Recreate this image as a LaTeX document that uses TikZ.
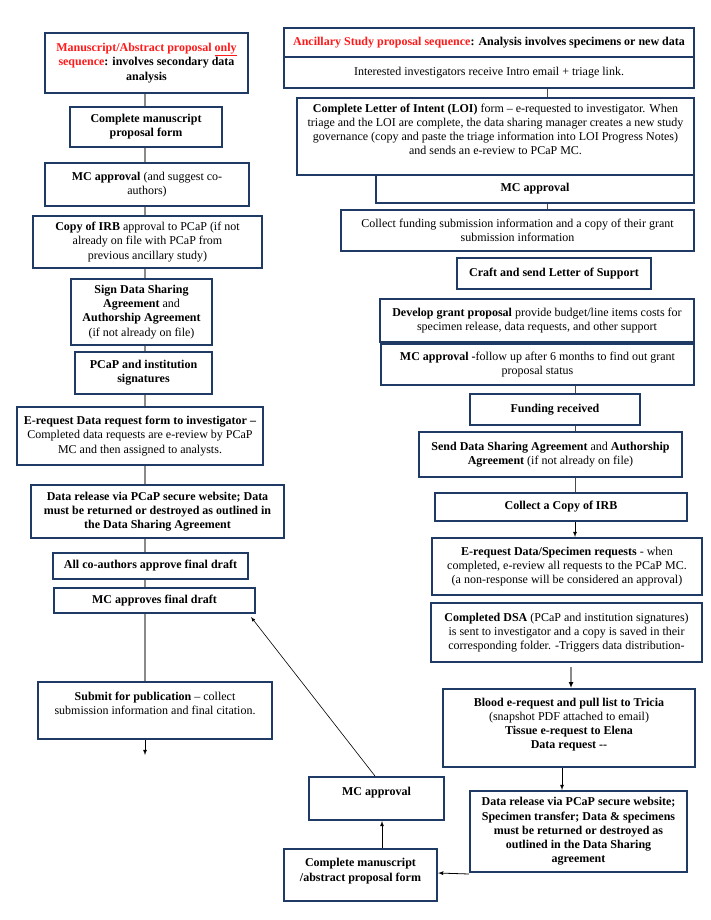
\documentclass[tikz,border=0pt]{standalone}
\usepackage{fontspec}
\setmainfont{Liberation Serif}
\usepackage{xcolor}
\usetikzlibrary{arrows.meta}
\definecolor{navyline}{HTML}{1F3A64}
\definecolor{hdred}{HTML}{FF1A1A}
\definecolor{lgray}{HTML}{8A8A8A}
\definecolor{dgray}{HTML}{4A4A4A}

\begin{document}
\begin{tikzpicture}[x=1pt,y=1pt,
    box/.style={draw=navyline,line width=2pt,align=center,inner sep=2pt,
      font=\fontsize{12}{14.2}\selectfont},
    bx/.style={box,font=\fontsize{12}{14.2}\selectfont\bfseries},
    lline/.style={draw=lgray,line width=1.4pt},
    rline/.style={draw=dgray,line width=1pt},
    arr/.style={->,>=latex,draw=black,line width=0.8pt}]
  \useasboundingbox (0,0) rectangle (710,-920);
  \coordinate (lx) at (145,0);
  % left column: manuscript / abstract sequence
  \node[bx,minimum width=203,minimum height=60](mhead) at (146.5,-63)
    {\textcolor{hdred}{Manuscript/Abstract proposal \underline{only}}\\
     \textcolor{hdred}{sequence}: involves secondary data\\ analysis};
  \node[bx,minimum width=152,minimum height=40](mform) at (146,-127)
    {Complete manuscript\\proposal form};
  \node[box,minimum width=204,minimum height=43](mcA) at (147,-184.5)
    {\textbf{MC approval} (and suggest co-\\authors)};
  \node[box,minimum width=229,minimum height=52](irbA) at (147.5,-242)
    {\textbf{Copy of IRB} approval to PCaP (if not\\already on file with PCaP from\\previous ancillary study)};
  \node[box,minimum width=141,minimum height=66](dsaA) at (141.5,-312)
    {\textbf{Sign Data Sharing}\\\textbf{Agreement} and\\\textbf{Authorship Agreement}\\(if not already on file)};
  \node[bx,minimum width=137,minimum height=42](sigA) at (143.5,-373)
    {PCaP and institution\\signatures};
  \node[box,minimum width=246,minimum height=58](ereqA) at (140,-436)
    {\textbf{E-request Data request form to investigator –}\\Completed data requests are e-review by PCaP\\MC and then assigned to analysts.};
  \node[bx,minimum width=253,minimum height=53](relA) at (157.5,-511.5)
    {Data release via PCaP secure website; Data\\must be returned or destroyed as outlined in\\the Data Sharing Agreement};
  \node[bx,minimum width=195,minimum height=26](coauth) at (150.5,-566)
    {All co-authors approve final draft};
  \node[bx,minimum width=201,minimum height=25](mcfin) at (154.5,-600.5)
    {MC approves final draft};
  \node[box,minimum width=234,minimum height=57](submit) at (155,-710.5)
    {\textbf{Submit for publication} – collect\\submission information and final citation.\\ \mbox{}};
  \coordinate (subend) at (145,-755);
  % right column: ancillary study sequence
  \node[bx,minimum width=410,minimum height=29](hdrA) at (489,-42.5)
    {\textcolor{hdred}{Ancillary Study proposal sequence}: Analysis involves specimens or new data};
  \node[box,minimum width=410,minimum height=31](hdrB) at (489,-72.5)
    {Interested investigators receive Intro email + triage link.};
  \node[box,minimum width=397,minimum height=77](loi) at (495.5,-136.5)
    {\textbf{Complete Letter of Intent (LOI)} form – e-requested to investigator. When\\
     triage and the LOI are complete, the data sharing manager creates a new study\\
     governance (copy and paste the triage information into LOI Progress Notes)\\
     and sends an e-review to PCaP MC.\\ \mbox{}};
  \node[bx,minimum width=318,minimum height=28](mcB) at (535,-189)
    {MC approval};
  \node[box,minimum width=353,minimum height=41](fund) at (517.5,-230.5)
    {Collect funding submission information and a copy of their grant\\submission information};
  \node[bx,minimum width=194,minimum height=31](los) at (554,-273.5)
    {Craft and send Letter of Support};
  \node[box,minimum width=314,minimum height=43](grant) at (537,-320.5)
    {\textbf{Develop grant proposal} provide budget/line items costs for\\specimen release, data requests, and other support};
  \node[box,minimum width=313,minimum height=41](mcC) at (537.5,-364.5)
    {\textbf{MC approval -}follow up after 6 months to find out grant\\proposal status};
  \node[bx,minimum width=170,minimum height=31](frec) at (555,-409.5)
    {Funding received};
  \node[box,minimum width=263,minimum height=45](sdsa) at (550.5,-454.5)
    {\textbf{Send Data Sharing Agreement} and \textbf{Authorship}\\\textbf{Agreement} (if not already on file)};
  \node[bx,minimum width=252,minimum height=28](irbB) at (561,-507)
    {Collect a Copy of IRB};
  \node[box,minimum width=270,minimum height=57](ereqB) at (567,-566.5)
    {\textbf{E-request Data/Specimen requests} - when\\completed, e-review all requests to the PCaP MC.\\(a non-response will be considered an approval)};
  \node[box,minimum width=271,minimum height=59](cdsa) at (566.5,-632.5)
    {\textbf{Completed DSA} (PCaP and institution signatures)\\is sent to investigator and a copy is saved in their\\corresponding folder. -Triggers data distribution-};
  \node[box,minimum width=252,minimum height=78](blood) at (569,-728)
    {\textbf{Blood e-request and pull list to Tricia}\\(snapshot PDF attached to email)\\\textbf{Tissue e-request to Elena}\\\textbf{Data request -{}-}\\[-5pt]\mbox{}};
  \node[bx,minimum width=217,minimum height=81](relB) at (578.5,-831.5)
    {Data release via PCaP secure website;\\Specimen transfer; Data \& specimens\\must be returned or destroyed as\\outlined in the Data Sharing\\agreement};
  \node[bx,minimum width=153,minimum height=52](cman) at (360.5,-875)
    {Complete manuscript\\/abstract proposal form\\[-4pt]\mbox{}};
  \node[bx,minimum width=135,minimum height=43](mcD) at (376.5,-798.5)
    {MC approval\\ \mbox{}};
  % left connectors
  \foreach \a/\b in {mhead/mform,mform/mcA,mcA/irbA,irbA/dsaA,dsaA/sigA,
      sigA/ereqA,ereqA/relA,relA/coauth,coauth/mcfin,mcfin/submit}
    \draw[lline] (\a.south -| lx) -- (\b.north -| lx);
  \draw[arr] (submit.south -| lx) -- (subend);
  % right connectors
  \coordinate (rx1) at (547,0);
  \coordinate (rx2) at (575,0);
  \draw[rline] (hdrB.south -| rx1) -- (loi.north -| rx1);
  \draw[rline] (mcB.south -| rx1) -- (fund.north -| rx1);
  \foreach \a/\b in {mcC/frec,frec/sdsa,sdsa/irbB}
    \draw[rline] (\a.south -| rx2) -- (\b.north -| rx2);
  \draw[arr] (irbB.south -| rx2) -- (ereqB.north -| rx2);
  \coordinate (rx3) at (571,0);
  \draw[-{Latex[black,length=6pt,width=5pt]},draw=lgray,line width=1.4pt]
    (cdsa.south -| rx3) ++(0,-4) -- (blood.north -| rx3);
  \coordinate (rx4) at (562,0);
  \draw[arr] (blood.south -| rx4) -- (relB.north -| rx4);
  \draw[arr] (relB.south west) ++(0,-1) -- (cman.east |- 0,-873);
  \coordinate (rx5) at (382,0);
  \draw[arr] (cman.north -| rx5) -- (mcD.south -| rx5);
  \coordinate (rx6) at (375,0);
  \draw[arr,line width=0.6pt] (mcD.north -| rx6) -- ([xshift=-5pt,yshift=-3pt]mcfin.south east);
\end{tikzpicture}
\end{document}
